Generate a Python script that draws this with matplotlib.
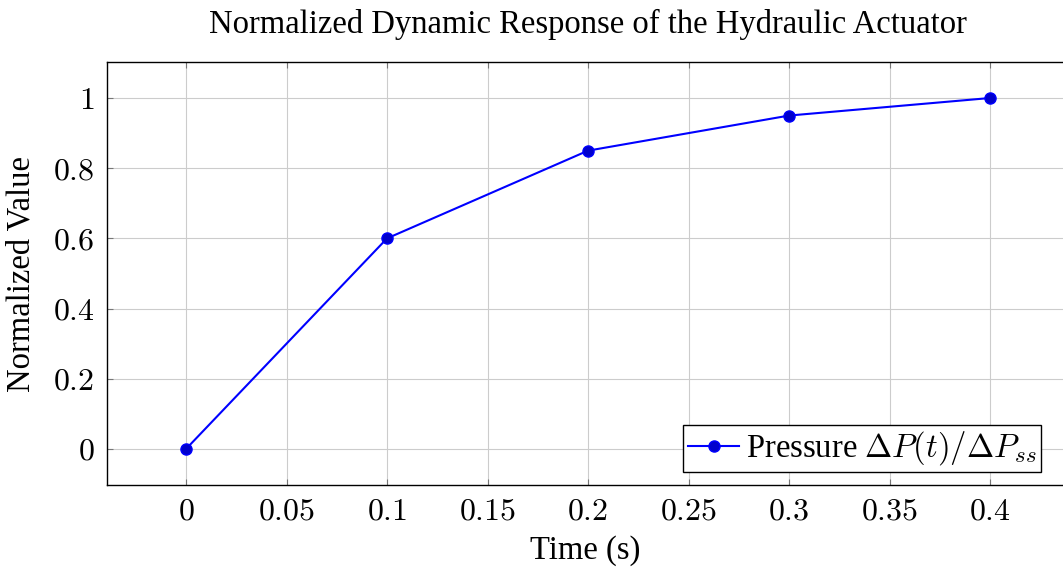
import matplotlib.pyplot as plt

plt.rcParams['font.family'] = ['Liberation Serif', 'DejaVu Serif']
plt.rcParams['mathtext.fontset'] = 'cm'

time_s = [0, 0.1, 0.2, 0.3, 0.4]
pressure_norm = [0, 0.6, 0.85, 0.95, 1.0]
xticks = [0, 0.05, 0.1, 0.15, 0.2, 0.25, 0.3, 0.35, 0.4]
yticks = [0, 0.2, 0.4, 0.6, 0.8, 1]

fig = plt.figure(figsize=(10.63, 5.69), dpi=100)
# the original box is cut off at the right edge of the figure
ax = fig.add_axes([107 / 1063, 1 - 485 / 569, (1063 - 107) / 1063, (485 - 62) / 569])

ax.plot(time_s, pressure_norm, color='#0000ff', lw=1.5, marker='o', ms=8,
        markerfacecolor='#0000cc', markeredgecolor='#0000ff',
        label=r'Pressure $\Delta P(t)/\Delta P_{ss}$')

ax.set_xlim(-0.0393, 0.4363)
ax.set_ylim(-0.1026, 1.1026)
ax.set_xticks(xticks)
ax.set_xticklabels(['$%g$' % v for v in xticks])
ax.set_yticks(yticks)
ax.set_yticklabels(['$%g$' % v for v in yticks])
ax.tick_params(direction='in', length=4, width=0.8, color='#777777',
               labelsize=23, top=True, right=False, pad=9)
ax.tick_params(axis='y', which='both', right=False, labelright=False)
ax.grid(True, color='#cccccc', lw=0.8)
ax.set_axisbelow(True)
for s in ax.spines.values():
    s.set_linewidth(1.0)
ax.spines['right'].set_visible(False)

ax.set_xlabel('Time (s)', fontsize=23.5, labelpad=6)
ax.set_ylabel('Normalized Value', fontsize=23.5, labelpad=12)
ax.set_title('Normalized Dynamic Response of the Hydraulic Actuator', fontsize=23.5, pad=21,
             x=(588 - 107) / 956)

leg = ax.legend(loc='lower right', fontsize=23.5, fancybox=False, framealpha=1,
                edgecolor='black', borderpad=0.15, handlelength=1.55,
                handletextpad=0.2, borderaxespad=0, bbox_to_anchor=(0.977, 0.03))
leg.get_frame().set_linewidth(1.0)

fig.savefig('out.png', dpi=100, facecolor='white')
